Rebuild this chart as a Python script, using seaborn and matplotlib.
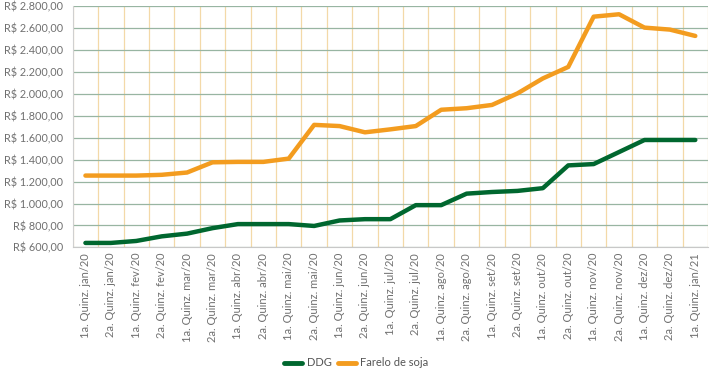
import pandas as pd
import matplotlib
matplotlib.use("Agg")
import matplotlib.pyplot as plt
import seaborn as sns
from matplotlib.ticker import FuncFormatter, MultipleLocator, FixedLocator

# Períodos (quinzenas) do eixo X
meses = ['jan/20', 'fev/20', 'mar/20', 'abr/20', 'mai/20', 'jun/20',
         'jul/20', 'ago/20', 'set/20', 'out/20', 'nov/20', 'dez/20']
periodos = []
for m in meses:
    periodos.append('1a. Quinz. ' + m)
    periodos.append('2a. Quinz. ' + m)
periodos.append('1a. Quinz. jan/21')

# Preços (R$/t)
ddg = [640, 640, 658, 700, 725, 775, 812, 812, 812, 795, 845, 857, 857,
       985, 985, 1090, 1105, 1115, 1140, 1348, 1360, 1470, 1580, 1580, 1580]
farelo = [1255, 1255, 1255, 1262, 1283, 1376, 1380, 1380, 1410, 1718, 1707,
          1650, 1677, 1707, 1856, 1870, 1900, 2005, 2142, 2247, 2706, 2728,
          2606, 2588, 2530]

df = pd.DataFrame({'Período': periodos * 2,
                   'Preço': ddg + farelo,
                   'Produto': ['DDG'] * len(ddg) + ['Farelo de soja'] * len(farelo)})
df['x'] = list(range(len(periodos))) * 2

sns.set_style("white")
plt.rcParams['font.family'] = ['Lato', 'DejaVu Sans']

fig = plt.figure(figsize=(7.13, 3.75), dpi=100)
ax = fig.add_axes([0.102, 0.3405, 0.891, 0.6425])

cores = {'DDG': '#00672f', 'Farelo de soja': '#f39c1f'}
sns.lineplot(data=df, x='x', y='Preço', hue='Produto', palette=cores,
             linewidth=3.2, ax=ax, legend=False, solid_capstyle='round')

ax.set_xlim(-0.5, len(periodos) - 0.5)
ax.set_ylim(600, 2800)
ax.yaxis.set_major_locator(MultipleLocator(200))


def real(v, pos):
    s = f"{v:,.2f}".replace(',', 'X').replace('.', ',').replace('X', '.')
    return 'R$ ' + s


ax.yaxis.set_major_formatter(FuncFormatter(real))
ax.set_xticks(range(len(periodos)))
ax.set_xticklabels(periodos, rotation=90)
ax.xaxis.set_minor_locator(FixedLocator([i + 0.5 for i in range(-1, len(periodos))]))

ax.grid(axis='y', which='major', color='#98b5a2', linewidth=0.9)
ax.grid(axis='x', which='minor', color='#f3d9a8', linewidth=0.9)
ax.set_axisbelow(True)

ax.tick_params(axis='x', which='major', length=0, labelsize=8, colors='#707070', pad=4)
ax.tick_params(axis='x', which='minor', length=4, color='#c8c8c8', width=0.8)
ax.tick_params(axis='y', length=0, labelsize=7.8, colors='#707070', pad=7)

for lado in ['top', 'right']:
    ax.spines[lado].set_visible(False)
ax.spines['left'].set_color('#d0d0d0')
ax.spines['bottom'].set_color('#c8c8c8')
ax.set_xlabel('')
ax.set_ylabel('')

handles = [plt.Line2D([], [], color=cores['DDG'], linewidth=3.5),
           plt.Line2D([], [], color=cores['Farelo de soja'], linewidth=3.5)]
fig.legend(handles, ['DDG', 'Farelo de soja'], loc='center', ncol=2,
           bbox_to_anchor=(0.5, 0.032), frameon=False, fontsize=8,
           handlelength=1.6, columnspacing=0.6, handletextpad=0.4,
           labelcolor='#555555')

fig.savefig('out.png', dpi=100)
